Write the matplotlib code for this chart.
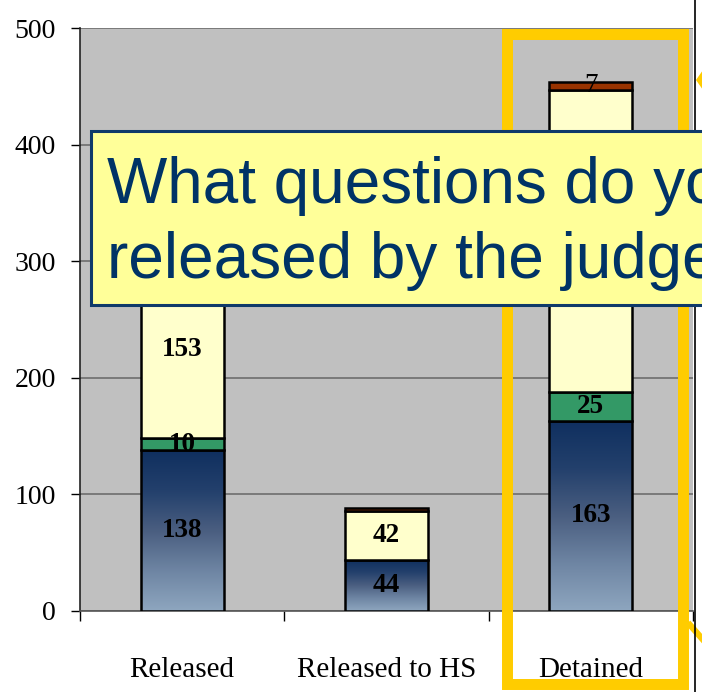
import numpy as np
import matplotlib
matplotlib.use("Agg")
import matplotlib.pyplot as plt
from matplotlib.colors import LinearSegmentedColormap
from matplotlib.patches import Rectangle, Polygon
from matplotlib.lines import Line2D

categories = ["Released", "Released to HS", "Detained"]
blue = [138, 44, 163]
green = [10, 0, 25]
yellow = [153, 42, 259]
brown = [0, 2, 7]
yticks = [0, 100, 200, 300, 400, 500]

W, H = 702, 692
fig = plt.figure(figsize=(W / 100, H / 100), dpi=100)


def px(x, y):
    # image pixel coords (from top-left) -> figure fraction
    return x / W, 1 - y / H


ax = fig.add_axes([80 / W, (H - 611) / H, (693 - 80) / W, (611 - 28) / H])
ax.set_facecolor("#c0c0c0")

blue_cmap = LinearSegmentedColormap.from_list(
    "navy", ["#8ea6bf", "#6e85a3", "#4a5e80", "#23406c", "#0f2f5f"])

xs = np.arange(len(categories)) + 0.5
width = 0.405
serif = "Liberation Serif"
lw = 1.8
lab = dict(ha="center", va="center", fontsize=19.5, fontweight="bold",
           family=serif, zorder=6)
grad = np.linspace(0, 1, 256).reshape(-1, 1)

for i, x in enumerate(xs):
    # gradient blue segment
    rect = ax.bar(x, blue[i], width, bottom=0, color="none",
                  edgecolor="black", linewidth=lw, zorder=4)[0]
    im = ax.imshow(grad, cmap=blue_cmap, aspect="auto", origin="lower",
                   extent=(x - width / 2, x + width / 2, 0, blue[i]), zorder=3)
    im.set_clip_path(rect)
    ax.text(x, blue[i] / 2, str(blue[i]), **lab)
    bottom = blue[i]
    if green[i]:
        ax.bar(x, green[i], width, bottom=bottom, color="#339966",
               edgecolor="black", linewidth=lw, zorder=4)
        ax.text(x, bottom + green[i] / 2, str(green[i]), **lab)
        bottom += green[i]
    ax.bar(x, yellow[i], width, bottom=bottom, color="#ffffcc",
           edgecolor="black", linewidth=lw, zorder=4)
    if yellow[i] < 200:  # the tall Detained label sits under the callout
        ax.text(x, bottom + yellow[i] / 2, str(yellow[i]), **lab)
    bottom += yellow[i]
    if brown[i]:
        ax.bar(x, brown[i], width, bottom=bottom, color="#993300",
               edgecolor="black", linewidth=lw, zorder=4)
        if brown[i] > 5:
            ax.text(x, bottom + brown[i] / 2, str(brown[i]), ha="center",
                    va="center", fontsize=19.5, family=serif, zorder=6)

ax.set_xlim(0, 3)
ax.set_ylim(0, 500)
ax.set_yticks(yticks)
ax.set_yticklabels([str(v) for v in yticks], fontsize=20, family=serif)
ax.tick_params(axis="y", length=6.5, width=1, pad=11, color="black")
ax.yaxis.grid(True, color="#6e6e6e", linewidth=1.2, zorder=1)
ax.set_axisbelow(True)

ax.set_xticks([0, 1, 2, 3])
ax.set_xticklabels([])
ax.set_xticks(xs, minor=True)
ax.set_xticklabels(categories, minor=True, fontsize=21, family=serif)
ax.tick_params(axis="x", which="major", length=7, width=1, color="black")
ax.tick_params(axis="x", which="minor", length=0, pad=33)

for side in ["top", "right"]:
    ax.spines[side].set_visible(False)
ax.spines["left"].set_color("#222222")
ax.spines["bottom"].set_color("#555555")
ax.spines["left"].set_linewidth(1.2)
ax.spines["bottom"].set_linewidth(1.2)

# yellow highlight frame around "Detained"
x0, y0 = px(507.5, 684)
x1, y1 = px(683, 34)
fig.add_artist(Rectangle((x0, y0), x1 - x0, y1 - y0, transform=fig.transFigure,
                         fill=False, edgecolor="#ffcc00", linewidth=7.9, zorder=10))

# pieces of another callout at right edge
fig.add_artist(Polygon([px(696, 80), px(703, 70), px(703, 90)], closed=True,
                       transform=fig.transFigure, facecolor="#ffcc00",
                       edgecolor="none", zorder=10))
fig.add_artist(Line2D([px(690, 625)[0], px(705, 642)[0]],
                      [px(690, 625)[1], px(705, 642)[1]],
                      transform=fig.transFigure, color="#ffcc00", linewidth=4.5, zorder=10))

# vertical rule at right
fig.add_artist(Line2D([px(695, 0)[0]] * 2, [0, 1], transform=fig.transFigure,
                      color="black", linewidth=1.2, zorder=11))

# question callout
bx0, by0 = px(90.5, 305)
bx1, by1 = px(720, 130.5)
fig.add_artist(Rectangle((bx0, by0), bx1 - bx0, by1 - by0, transform=fig.transFigure,
                         facecolor="#ffff99", edgecolor="#0f3a6a", linewidth=2.2, zorder=12))
fig.text(*px(107, 203), "What questions do you", fontsize=46, color="#003366",
         family="Liberation Sans", va="baseline", ha="left", zorder=13)
fig.text(*px(107, 278), "released by the judge", fontsize=46, color="#003366",
         family="Liberation Sans", va="baseline", ha="left", zorder=13)

fig.savefig("out.png", dpi=100)
